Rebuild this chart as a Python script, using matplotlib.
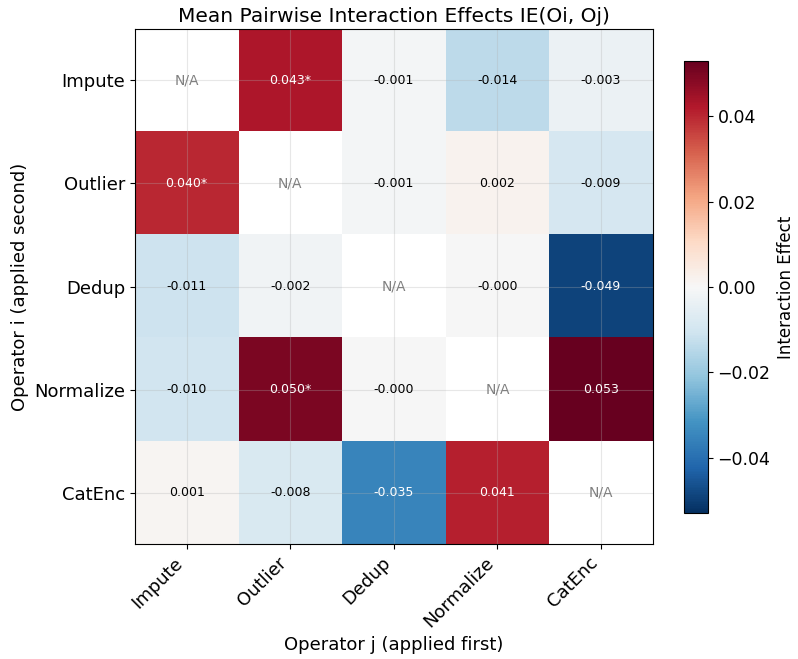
import matplotlib.pyplot as plt
import numpy as np

operators = ['Impute', 'Outlier', 'Dedup', 'Normalize', 'CatEnc']

# mean interaction effect, row = operator applied second, col = applied first
ie_impute = [np.nan, 0.043, -0.001, -0.014, -0.003]
ie_outlier = [0.040, np.nan, -0.001, 0.002, -0.009]
ie_dedup = [-0.011, -0.002, np.nan, -0.0003, -0.049]
ie_normalize = [-0.010, 0.050, -0.0003, np.nan, 0.053]
ie_catenc = [0.001, -0.008, -0.035, 0.041, np.nan]

# significant pairs (marked with *)
sig_impute = [False, True, False, False, False]
sig_outlier = [True, False, False, False, False]
sig_dedup = [False, False, False, False, False]
sig_normalize = [False, True, False, False, False]
sig_catenc = [False, False, False, False, False]

ie = np.array([ie_impute, ie_outlier, ie_dedup, ie_normalize, ie_catenc])
sig = np.array([sig_impute, sig_outlier, sig_dedup, sig_normalize, sig_catenc])

vmax = np.nanmax(np.abs(ie))

fig = plt.figure(figsize=(7.98, 6.59), dpi=100)
ax = fig.add_axes([0.169, 0.1745, 0.649, 0.7815])
cax = fig.add_axes([0.857, 0.2215, 0.030, 0.686])

im = ax.imshow(np.ma.masked_invalid(ie), cmap='RdBu_r', vmin=-vmax, vmax=vmax, aspect='auto')

n = len(operators)
for i in range(n):
    for j in range(n):
        v = ie[i, j]
        if np.isnan(v):
            ax.text(j, i, 'N/A', ha='center', va='center', color='gray', fontsize=10)
            continue
        label = f'{v:.3f}' + ('*' if sig[i, j] else '')
        color = 'white' if abs(v) > 0.6 * vmax else 'black'
        ax.text(j, i, label, ha='center', va='center', color=color, fontsize=9)

ax.set_xticks(range(n))
ax.set_yticks(range(n))
ax.set_xticklabels(operators, rotation=45, ha='right', fontsize=13)
ax.set_yticklabels(operators, fontsize=13)
ax.set_xlabel('Operator j (applied first)', fontsize=13)
ax.set_ylabel('Operator i (applied second)', fontsize=13)
ax.set_title('Mean Pairwise Interaction Effects IE(Oi, Oj)', fontsize=14.5, pad=5)
ax.grid(True, alpha=0.3)

cbar = fig.colorbar(im, cax=cax)
cbar.set_label('Interaction Effect', fontsize=12, labelpad=5)
cbar.ax.tick_params(labelsize=12.5)

fig.savefig('out.png', dpi=100)
